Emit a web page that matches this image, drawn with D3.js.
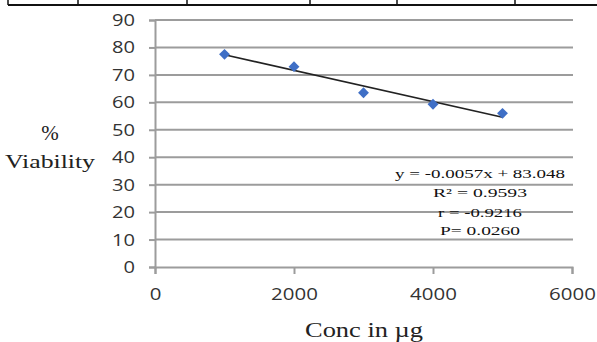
<!DOCTYPE html>
<html>
<head>
<meta charset="utf-8">
<script src="https://cdn.jsdelivr.net/npm/d3@7"></script>
<style>
  body { margin: 0; background: #fff; }
  svg { display: block; }
</style>
</head>
<body>
<div id="chart"></div>
<script>
// ===================================
// DATA
// ===================================
const concentrations = [1000, 2000, 3000, 4000, 5000];
const viability = [77.5, 73, 63.5, 59.3, 56];
const xTicks = [0, 2000, 4000, 6000];
const yTicks = [0, 10, 20, 30, 40, 50, 60, 70, 80, 90];
// trendline as printed on the chart
const trendSlope = -0.0057;
const trendIntercept = 83.048;
const statsLines = ["y = -0.0057x + 83.048", "R\u00b2 = 0.9593", "r = -0.9216", "P= 0.0260"];
// column borders of the table row above the chart
const tableCols = [8, 78, 187, 310, 397, 515];

(function() {
    const W = 597, H = 342;
    const svg = d3.select("#chart").append("svg")
        .attr("width", W).attr("height", H);

    // table border remnant at the top
    svg.append("line")
        .attr("x1", 8).attr("x2", W).attr("y1", 5).attr("y2", 5)
        .attr("stroke", "#111").attr("stroke-width", 2);
    svg.selectAll(".tcol").data(tableCols).join("line")
        .attr("x1", d => d).attr("x2", d => d)
        .attr("y1", 0).attr("y2", 5)
        .attr("stroke", "#111").attr("stroke-width", 1.5);

    // scales
    const x = d3.scaleLinear().domain([0, 6000]).range([155, 572]);
    const y = d3.scaleLinear().domain([0, 90]).range([267, 20]);

    const grey = "#9c9c9c";

    // gridlines
    svg.append("g").selectAll("line").data(yTicks.filter(d => d > 0)).join("line")
        .attr("x1", x(0)).attr("x2", 573)
        .attr("y1", d => y(d)).attr("y2", d => y(d))
        .attr("stroke", grey).attr("stroke-width", 2);

    // y axis
    const yAxis = svg.append("g")
        .attr("transform", `translate(${x(0)},0)`)
        .call(d3.axisLeft(y).tickValues(yTicks).tickSize(6).tickPadding(14));
    yAxis.select(".domain").attr("stroke", grey).attr("stroke-width", 2);
    yAxis.selectAll(".tick line").attr("stroke", grey).attr("stroke-width", 2);
    yAxis.selectAll("text")
        .attr("font-family", "Open Sans, Lato, sans-serif")
        .attr("font-size", 17)
        .attr("fill", "#333")
        .attr("textLength", d => String(d).length * 11.5)
        .attr("lengthAdjust", "spacingAndGlyphs");

    // x axis
    const xAxis = svg.append("g")
        .attr("transform", `translate(0,${y(0)})`)
        .call(d3.axisBottom(x).tickValues(xTicks).tickSize(7).tickFormat(d3.format("d")));
    xAxis.select(".domain").attr("stroke", grey).attr("stroke-width", 2);
    xAxis.selectAll(".tick line").attr("stroke", grey).attr("stroke-width", 2);
    xAxis.selectAll("text")
        .attr("y", 27).attr("dy", "0.35em")
        .attr("font-family", "Open Sans, Lato, sans-serif")
        .attr("font-size", 17)
        .attr("fill", "#333")
        .attr("textLength", d => String(d).length * 11.7)
        .attr("lengthAdjust", "spacingAndGlyphs");

    // trendline
    const xMin = d3.min(concentrations), xMax = d3.max(concentrations);
    svg.append("line")
        .attr("x1", x(xMin)).attr("y1", y(trendSlope * xMin + trendIntercept))
        .attr("x2", x(xMax)).attr("y2", y(trendSlope * xMax + trendIntercept))
        .attr("stroke", "#222").attr("stroke-width", 1.6);

    // diamond markers
    const data = concentrations.map((c, i) => ({ c, v: viability[i] }));
    svg.selectAll(".pt").data(data).join("path")
        .attr("class", "pt")
        .attr("d", d3.symbol(d3.symbolDiamond2, 75))
        .attr("transform", d => `translate(${x(d.c)},${y(d.v)})`)
        .attr("fill", "#3f6fc6");

    // regression stats
    const statY = [173, 192.5, 212, 230];
    const statW = [170, 94, 84, 80];
    svg.selectAll(".stat").data(statsLines).join("text")
        .attr("x", 480).attr("y", (d, i) => statY[i]).attr("dy", "0.35em")
        .attr("text-anchor", "middle")
        .attr("font-family", "Liberation Serif, Times New Roman, serif")
        .attr("font-size", 13)
        .attr("fill", "#111")
        .attr("textLength", (d, i) => statW[i])
        .attr("lengthAdjust", "spacingAndGlyphs")
        .text(d => d);

    // axis titles
    svg.append("text")
        .attr("x", 50).attr("y", 133).attr("dy", "0.35em")
        .attr("text-anchor", "middle")
        .attr("font-family", "Liberation Serif, Times New Roman, serif")
        .attr("font-size", 21).attr("fill", "#222")
        .text("%");
    svg.append("text")
        .attr("x", 50).attr("y", 162).attr("dy", "0.35em")
        .attr("text-anchor", "middle")
        .attr("font-family", "Liberation Serif, Times New Roman, serif")
        .attr("font-size", 18).attr("fill", "#222")
        .attr("textLength", 90).attr("lengthAdjust", "spacingAndGlyphs")
        .text("Viability");
    svg.append("text")
        .attr("x", 364).attr("y", 337)
        .attr("text-anchor", "middle")
        .attr("font-family", "Liberation Serif, Times New Roman, serif")
        .attr("font-size", 21).attr("fill", "#222")
        .attr("textLength", 118).attr("lengthAdjust", "spacingAndGlyphs")
        .text("Conc in \u00b5g");
})();
</script>
</body>
</html>
